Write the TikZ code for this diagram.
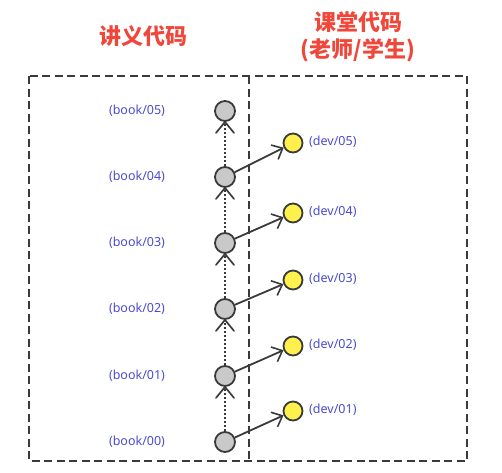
\documentclass[tikz,border=0pt]{standalone}
\usepackage{fontspec}
\setmainfont{Noto Sans}
\newfontfamily\cjk{Noto Sans CJK SC}
\usetikzlibrary{arrows.meta,calc}
\definecolor{titlered}{HTML}{F0473A}
\definecolor{lblblue}{HTML}{4B4BD0}
\definecolor{edge}{HTML}{3A3A3A}
\definecolor{grayfill}{HTML}{C9C9C9}
\definecolor{yelfill}{HTML}{FFF04E}
\tikzset{
  commit/.style={circle,draw=edge,line width=1.8pt,fill=grayfill,minimum size=20pt,inner sep=0pt},
  devc/.style={circle,draw=edge,line width=1.8pt,fill=yelfill,minimum size=19pt,inner sep=0pt},
  lbl/.style={text=lblblue,font=\fontsize{12.5}{14}\selectfont,inner sep=0pt},
  ttl/.style={text=titlered,font=\cjk\bfseries\fontsize{22}{27}\selectfont,align=center,inner sep=0pt},
  frame/.style={draw=edge,line width=1.8pt,dash pattern=on 8pt off 4.5pt},
  hist/.style={draw=edge,line width=2pt,dotted},
  vee/.style={draw=edge,line width=1.7pt,line cap=round,line join=miter,solid},
  branch/.style={draw=edge,line width=1.8pt,-{Straight Barb[length=9pt,width=16pt,line width=1.6pt]}}
}
\begin{document}
\begin{tikzpicture}[x=1pt,y=-1pt]
\useasboundingbox (0,0) rectangle (502,472);
\node[ttl] (t1) at (143,36) {讲义代码};
\node[ttl] (t2) at (358,37) {课堂代码\\(老师/学生)};
\coordinate (fa) at (29,76);
\coordinate (fb) at (467,461);
\draw[frame] (fa) rectangle (fb);
\coordinate (da) at (249,76);
\coordinate (db) at (249,461);
\draw[frame] (da) -- (db);
\foreach \i/\y in {0/442,1/376,2/309,3/243,4/177,5/111}{
  \node[commit] (b\i) at (225,\y) {};
  \node[lbl] (lb\i) at (137,\y) {(book/0\i)};
}
\foreach \i/\y in {1/411,2/346,3/280,4/213,5/143}{
  \node[devc] (d\i) at (293,\y) {};
  \node[lbl,anchor=west] (ld\i) at (309,\y-1) {(dev/0\i)};
}
\foreach \a/\b in {0/1,1/2,2/3,3/4,4/5}{
  \draw[hist] (b\a) -- (b\b);
  \coordinate (vl\b) at ([shift={(-9pt,-11pt)}]b\b.south);
  \coordinate (vr\b) at ([shift={(9pt,-11pt)}]b\b.south);
  \draw[vee] (vl\b) -- (b\b.south) -- (vr\b);
}
\foreach \a/\b in {0/1,1/2,2/3,3/4,4/5}{
  \draw[branch] (b\a) -- (d\b);
}
\end{tikzpicture}
\end{document}
